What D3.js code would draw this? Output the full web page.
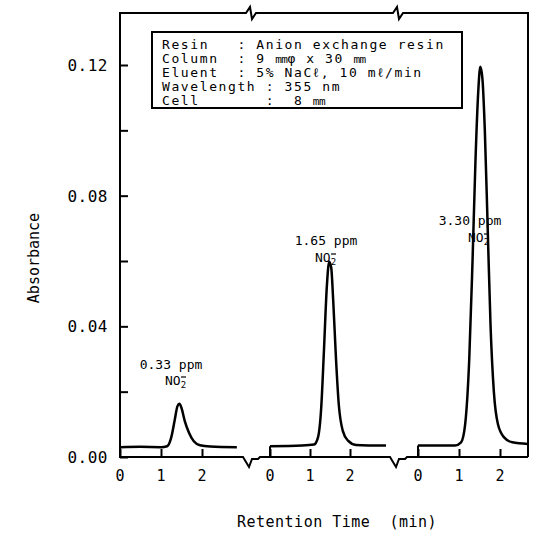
<!DOCTYPE html>
<html lang="en">
<head>
<meta charset="utf-8">
<script src="https://d3js.org/d3.v7.min.js"></script>
<style type="text/css">
body {
	margin: 0;
	background-color: #ffffff;
}
text {
	font-family: "DejaVu Sans Mono", monospace;
	fill: #000;
}
.axis line, .axis path, .frame {
	fill: none;
	stroke: #000;
	stroke-width: 2;
}
</style>
</head>
<body>
<script type="text/javascript">

// chromatogram traces, one per concentration: [time (min), absorbance]
var trace033 = [[0,0.0030],[0.5,0.0031],[1.0,0.0030],[1.15,0.0033],[1.25,0.0060],[1.33,0.0110],
  [1.40,0.0155],[1.45,0.0163],[1.50,0.0150],[1.58,0.0110],[1.68,0.0075],[1.80,0.0048],
  [1.95,0.0036],[2.2,0.0032],[2.85,0.0030]];
var trace165 = [[0,0.0033],[0.8,0.0035],[1.1,0.0038],[1.2,0.0060],[1.28,0.0150],[1.35,0.0330],
  [1.42,0.0520],[1.48,0.0598],[1.53,0.0580],[1.58,0.0480],[1.65,0.0300],[1.72,0.0160],
  [1.82,0.0080],[1.95,0.0050],[2.15,0.0037],[2.9,0.0035]];
var trace330 = [[0,0.0035],[0.9,0.0035],[1.05,0.0045],[1.15,0.0100],[1.25,0.0300],[1.33,0.0600],
  [1.40,0.0900],[1.47,0.1120],[1.52,0.1195],[1.57,0.1160],[1.63,0.1000],[1.70,0.0700],
  [1.77,0.0400],[1.85,0.0200],[1.95,0.0100],[2.1,0.0060],[2.3,0.0045],[2.68,0.0040]];

var peakLabels = ["0.33 ppm", "1.65 ppm", "3.30 ppm"];
var xTicks = [0, 1, 2];
var yTicks = [0.00, 0.04, 0.08, 0.12];
var yMinorTicks = [0.02, 0.06, 0.10];
// each line: [label, value]; "mm" units are drawn squeezed like the original
var infoLines = [
  ["Resin   : ", "Anion exchange resin"],
  ["Column  : ", "9 mmφ x 30 mm"],
  ["Eluent  : ", "5% NaCℓ, 10 mℓ/min"],
  ["Wavelength : ", "355 nm"],
  ["Cell       :  ", "8 mm"]
];

var width = 533, height = 541;
var mLeft = 120, mRight = 528, mTop = 13, mBottom = 457;

var svg = d3.select("body").append("svg")
  .attr("width", width)
  .attr("height", height);

var y = d3.scaleLinear().domain([0, 0.12]).range([mBottom, 65]);

// three broken x segments, each 0..2 min
var panels = [
  {data: trace033, x: d3.scaleLinear().domain([0, 2]).range([120, 202]), lab: [171, 369], no: [178, 385]},
  {data: trace165, x: d3.scaleLinear().domain([0, 2]).range([270, 350]), lab: [326, 245], no: [328, 262]},
  {data: trace330, x: d3.scaleLinear().domain([0, 2]).range([418, 500]), lab: [470, 225], no: [481, 242]}
];

// peak labels (under the traces)
panels.forEach(function(p, i) {
  svg.append("text")
    .attr("x", p.lab[0]).attr("y", p.lab[1])
    .attr("text-anchor", "middle")
    .style("font-size", "13px")
    .text(peakLabels[i]);
  var t = svg.append("text")
    .attr("x", p.no[0] - 13).attr("y", p.no[1])
    .style("font-size", "13px");
  t.append("tspan").text("NO");
  t.append("tspan").attr("dy", 3).style("font-size", "9px").text("2");
  // charge sign above the subscript
  svg.append("line")
    .attr("x1", p.no[0] + 3).attr("x2", p.no[0] + 8)
    .attr("y1", p.no[1] - 8).attr("y2", p.no[1] - 8)
    .attr("stroke", "#000").attr("stroke-width", 1.2);
});

// frame: left axis line, top with breaks, right side
var breaks = [250, 397];
var topPath = d3.path();
topPath.moveTo(mLeft, mTop);
breaks.forEach(function(b) {
  topPath.lineTo(b - 4, mTop);
  topPath.lineTo(b, mTop - 6);
  topPath.lineTo(b + 2, mTop + 6);
  topPath.lineTo(b + 6, mTop);
});
topPath.lineTo(mRight, mTop);
topPath.lineTo(mRight, mBottom);
svg.append("path").attr("class", "frame").attr("d", topPath.toString());

svg.append("line").attr("class", "frame")
  .attr("x1", mLeft).attr("x2", mLeft)
  .attr("y1", mTop - 1).attr("y2", mBottom + 1);

// bottom axis with breaks
var botPath = d3.path();
botPath.moveTo(mLeft, mBottom);
breaks.forEach(function(b) {
  botPath.lineTo(b - 7, mBottom);
  botPath.lineTo(b - 1, mBottom + 10);
  botPath.lineTo(b + 2, mBottom + 2);
  botPath.lineTo(b + 8, mBottom + 2);
  botPath.lineTo(b + 10, mBottom);
});
botPath.lineTo(mRight, mBottom);
svg.append("path").attr("class", "frame").attr("d", botPath.toString());

// y axis: inward ticks
var yAxis = d3.axisRight(y)
  .tickValues(yTicks.concat(yMinorTicks))
  .tickSize(8)
  .tickFormat("");
svg.append("g")
  .attr("class", "axis")
  .attr("transform", "translate(" + mLeft + ",0)")
  .call(yAxis)
  .call(function(g) { g.select(".domain").remove(); });

svg.selectAll(".ylab")
  .data(yTicks)
  .enter().append("text")
  .attr("class", "ylab")
  .attr("x", 108)
  .attr("y", function(d) { return y(d) + 6; })
  .attr("text-anchor", "end")
  .style("font-size", "16px")
  .style("letter-spacing", "0.5px")
  .text(d3.format(".2f"));

// x ticks per panel
panels.forEach(function(p) {
  var g = svg.append("g")
    .attr("class", "axis")
    .attr("transform", "translate(0," + mBottom + ")")
    .call(d3.axisTop(p.x).tickValues(xTicks).tickSize(8).tickFormat(""));
  g.select(".domain").remove();
  svg.selectAll(null)
    .data(xTicks)
    .enter().append("text")
    .attr("x", function(d) { return p.x(d); })
    .attr("y", 481)
    .attr("text-anchor", "middle")
    .style("font-size", "15px")
    .text(function(d) { return d; });
});

// traces
panels.forEach(function(p) {
  var line = d3.line()
    .x(function(d) { return p.x(d[0]); })
    .y(function(d) { return y(d[1]); })
    .curve(d3.curveMonotoneX);
  svg.append("path")
    .attr("d", line(p.data))
    .attr("fill", "none")
    .attr("stroke", "#000")
    .attr("stroke-width", 2.5)
    .attr("stroke-linejoin", "round");
  // little step from axis up to the start of the trace
  svg.append("line")
    .attr("x1", p.x(0)).attr("x2", p.x(0))
    .attr("y1", mBottom).attr("y2", y(p.data[0][1]))
    .attr("stroke", "#000").attr("stroke-width", 2);
});

// info box
svg.append("rect")
  .attr("x", 152).attr("y", 32)
  .attr("width", 310).attr("height", 76)
  .attr("fill", "#fff")
  .attr("stroke", "#000")
  .attr("stroke-width", 2);

svg.selectAll(".info")
  .data(infoLines)
  .enter().append("text")
  .attr("class", "info")
  .attr("x", 162)
  .attr("y", function(d, i) { return 49 + i * 14; })
  .attr("xml:space", "preserve")
  .style("white-space", "pre")
  .style("font-size", "13px")
  .style("letter-spacing", "1.6px")
  .each(function(d) {
    var t = d3.select(this);
    t.append("tspan").text(d[0]);
    // split on "mm" so the unit can be drawn narrow
    d[1].split("mm").forEach(function(part, j) {
      if (j > 0) {
        t.append("tspan")
          .style("font-size", "11px")
          .style("letter-spacing", "-0.5px")
          .text("mm");
      }
      if (part) t.append("tspan").text(part);
    });
  });

// axis titles
svg.append("text")
  .attr("transform", "translate(39,258) rotate(-90)")
  .attr("text-anchor", "middle")
  .style("font-size", "15px")
  .text("Absorbance");

svg.append("text")
  .attr("x", 337)
  .attr("y", 527)
  .attr("text-anchor", "middle")
  .attr("xml:space", "preserve")
  .style("white-space", "pre")
  .style("font-size", "15px")
  .style("letter-spacing", "0.5px")
  .text("Retention Time  (min)");

</script>
</body>
</html>
